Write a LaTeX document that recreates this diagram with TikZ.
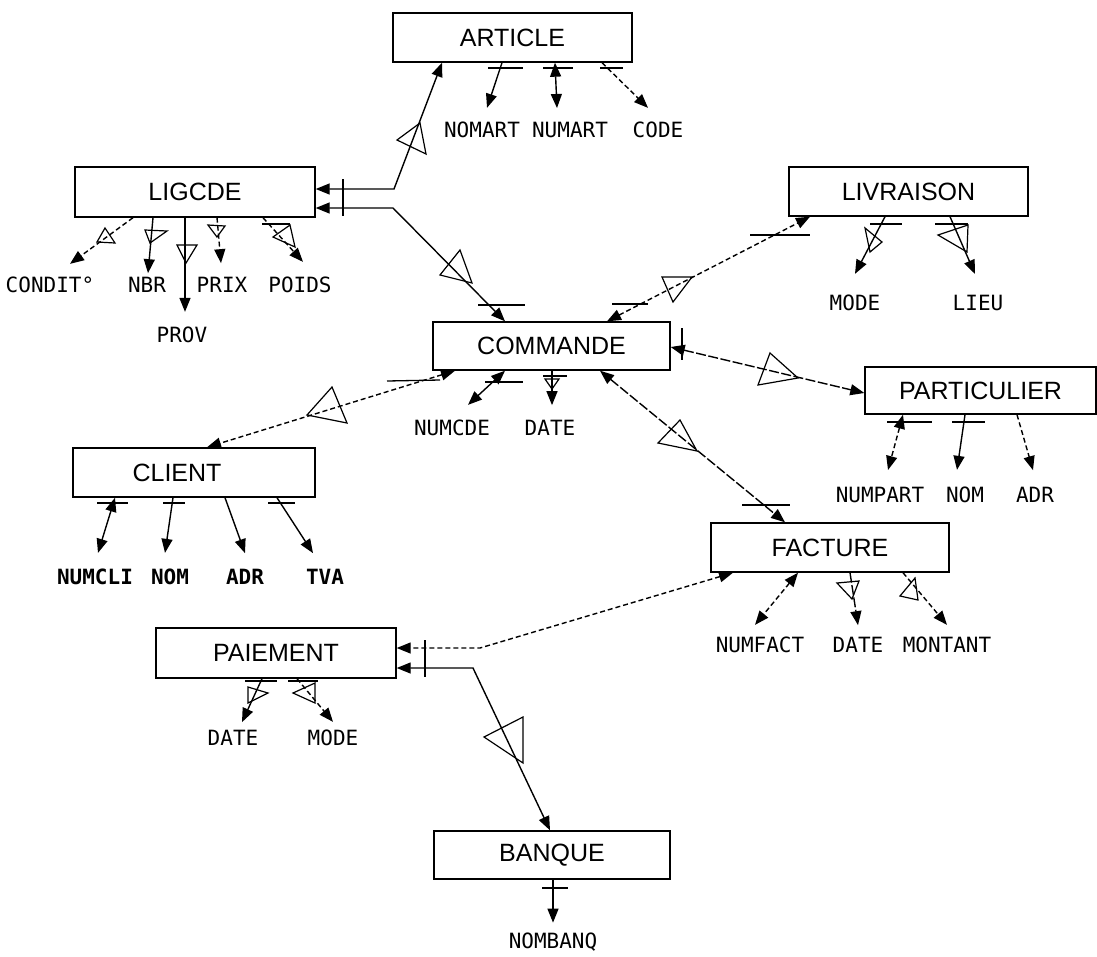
\documentclass[tikz,border=0pt]{standalone}
\usepackage{fontspec}
\newfontfamily\boxfont{Liberation Sans}
\newfontfamily\attrfont{DejaVu Sans Mono}
\usetikzlibrary{arrows.meta}
\tikzset{
  >={Triangle[length=14pt,width=11pt]},
  ent/.style={draw, line width=1.4pt, inner sep=0pt, font=\boxfont\fontsize{25}{25}\selectfont},
  attr/.style={inner sep=0pt, font=\attrfont\fontsize{21}{21}\selectfont},
  battr/.style={attr, font=\attrfont\bfseries\fontsize{21}{21}\selectfont},
  ln/.style={line width=1.4pt},
  dsh/.style={ln, dash pattern=on 5pt off 3pt},
  ldsh/.style={ln, dash pattern=on 10pt off 2.5pt},
  bar/.style={line width=1.3pt},
  tri/.style={line width=1.2pt},
}
\begin{document}
\begin{tikzpicture}[x=1pt,y=-1pt]
\useasboundingbox (0,0) rectangle (1097,956);

% entities
\node[ent, minimum width=239pt, minimum height=49pt] (ARTICLE) at (512.5,37.5) {ARTICLE};
\node[ent, minimum width=240pt, minimum height=50pt] (LIGCDE) at (195,192) {LIGCDE};
\node[ent, minimum width=237pt, minimum height=48pt] (COMMANDE) at (551.5,346) {COMMANDE};
\node[ent, minimum width=239pt, minimum height=49pt] (LIVRAISON) at (908.5,191.5) {LIVRAISON};
\node[ent, minimum width=231pt, minimum height=47pt] (PARTICULIER) at (980.5,390.5) {PARTICULIER};
\node[ent, minimum width=238pt, minimum height=49pt] (FACTURE) at (830,547.5) {FACTURE};
\node[ent, minimum width=242pt, minimum height=49pt] (CLIENT) at (194,472.5) {\hspace*{-34pt}CLIENT};
\node[ent, minimum width=240pt, minimum height=50pt] (PAIEMENT) at (276,653) {PAIEMENT};
\node[ent, minimum width=236pt, minimum height=48pt] (BANQUE) at (552,855) {BANQUE};

% attribute labels
\node[attr] (NOMART) at (482,130) {NOMART};
\node[attr] (NUMART) at (570,130) {NUMART};
\node[attr] (CODE) at (658,130) {CODE};
\node[attr] (CONDIT) at (50,285) {CONDIT°};
\node[attr] (NBR) at (147,285) {NBR};
\node[attr] (PROV) at (182,335) {PROV};
\node[attr] (PRIX) at (222,285) {PRIX};
\node[attr] (POIDS) at (300,285) {POIDS};
\node[attr] (NUMCDE) at (452,428) {NUMCDE};
\node[attr] (CDATE) at (550,428) {DATE};
\node[attr] (LMODE) at (855,303) {MODE};
\node[attr] (LIEU) at (978,303) {LIEU};
\node[attr] (NUMPART) at (880,495) {NUMPART};
\node[attr] (PNOM) at (965,495) {NOM};
\node[attr] (PADR) at (1035,495) {ADR};
\node[battr] (NUMCLI) at (95,577) {NUMCLI};
\node[battr] (CNOM) at (170,577) {NOM};
\node[battr] (CADR) at (245,577) {ADR};
\node[battr] (TVA) at (325,577) {TVA};
\node[attr] (NUMFACT) at (760,645) {NUMFACT};
\node[attr] (FDATE) at (858,645) {DATE};
\node[attr] (MONTANT) at (947,645) {MONTANT};
\node[attr] (PDATE) at (233,738) {DATE};
\node[attr] (PMODE) at (333,738) {MODE};
\node[attr] (NOMBANQ) at (553,942) {NOMBANQ};

% ARTICLE attributes
\draw[ln,->] (502,0 |- ARTICLE.south) -- ([shift={(5pt,14pt)}]NOMART.north);
\draw[ln,<->] (555,0 |- ARTICLE.south) -- ([shift={(-13pt,14pt)}]NUMART.north);
\draw[dsh,->] (602,0 |- ARTICLE.south) -- ([shift={(-10pt,14pt)}]CODE.north);
\draw[bar] (488,68) -- (523,68) (543,68) -- (573,68) (600,68) -- (623,68);

% LIGCDE attributes
\draw[dsh,->] (133,0 |- LIGCDE.south) -- ([shift={(20pt,13pt)}]CONDIT.north);
\draw[tri] (97,242) -- (105,228) -- (115,243) -- cycle;
\draw[ln,->] (153,0 |- LIGCDE.south) -- ([shift={(1pt,4pt)}]NBR.north);
\draw[tri] (145,230) -- (167,231) -- (150,243) -- cycle;
\draw[ln,->] (185,0 |- LIGCDE.south) -- ([shift={(3pt,15pt)}]PROV.north);
\draw[tri] (177,245) -- (197,245) -- (186,263) -- cycle;
\draw[dsh,->] (217,0 |- LIGCDE.south) -- ([shift={(-1pt,14pt)}]PRIX.north);
\draw[tri] (208,225) -- (225,226) -- (217,237) -- cycle;
\draw[dsh,->] (263,0 |- LIGCDE.south) -- ([shift={(3pt,15pt)}]POIDS.north);
\draw[bar] (262,224) -- (290,224);
\draw[tri] (273,237) -- (290,225) -- (295,247) -- cycle;

% COMMANDE attributes
\draw[ln,<->] (505,0 |- COMMANDE.south) -- ([shift={(16pt,15pt)}]NUMCDE.north);
\draw[bar] (485,382) -- (523,382);
\draw[ln,->] (552,0 |- COMMANDE.south) -- ([shift={(2pt,15pt)}]CDATE.north);
\draw[bar] (543,376) -- (567,376);
\draw[tri] (545,379) -- (559,379) -- (552,389) -- cycle;

% LIVRAISON attributes
\draw[ln,->] (885,0 |- LIVRAISON.south) -- ([shift={(0pt,21pt)}]LMODE.north);
\draw[bar] (870,224) -- (902,224);
\draw[tri] (865,228) -- (882,242) -- (870,252) -- cycle;
\draw[ln,->] (950,0 |- LIVRAISON.south) -- ([shift={(-3pt,21pt)}]LIEU.north);
\draw[bar] (935,224) -- (968,224);
\draw[tri] (938,235) -- (968,225) -- (967,252) -- cycle;

% PARTICULIER attributes
\draw[dsh,<->] (903,0 |- PARTICULIER.south) -- ([shift={(8pt,17pt)}]NUMPART.north);
\draw[bar] (887,422) -- (932,422);
\draw[ln,->] (965,0 |- PARTICULIER.south) -- ([shift={(-8pt,17pt)}]PNOM.north);
\draw[bar] (952,422) -- (985,422);
\draw[dsh,->] (1017,0 |- PARTICULIER.south) -- ([shift={(-2pt,17pt)}]PADR.north);

% CLIENT attributes
\draw[ln,<->] (115,0 |- CLIENT.south) -- ([shift={(3pt,16pt)}]NUMCLI.north);
\draw[bar] (97,503) -- (128,503);
\draw[ln,->] (173,0 |- CLIENT.south) -- ([shift={(-5pt,16pt)}]CNOM.north);
\draw[bar] (163,503) -- (185,503);
\draw[ln,->] (225,0 |- CLIENT.south) -- ([shift={(0pt,16pt)}]CADR.north);
\draw[ln,->] (277,0 |- CLIENT.south) -- ([shift={(-12pt,16pt)}]TVA.north);
\draw[bar] (268,503) -- (295,503);

% FACTURE attributes
\draw[dsh,<->] (798,0 |- FACTURE.south) -- ([shift={(-5pt,12pt)}]NUMFACT.north);
\draw[ldsh,->] (850,0 |- FACTURE.south) -- ([shift={(0pt,12pt)}]FDATE.north);
\draw[tri] (837,583) -- (859,581) -- (852,599) -- cycle;
\draw[dsh,->] (903,0 |- FACTURE.south) -- ([shift={(0pt,12pt)}]MONTANT.north);
\draw[tri] (900,596) -- (915,578) -- (918,600) -- cycle;

% PAIEMENT attributes
\draw[ln,->] (262,0 |- PAIEMENT.south) -- ([shift={(9pt,8pt)}]PDATE.north);
\draw[tri] (248,687) -- (248,703) -- (268,693) -- cycle;
\draw[dsh,->] (297,0 |- PAIEMENT.south) -- ([shift={(0pt,8pt)}]PMODE.north);
\draw[tri] (293,693) -- (315,683) -- (315,703) -- cycle;
\draw[bar] (245,681) -- (277,681) (288,681) -- (318,681);

% BANQUE attribute
\draw[ln,->] (553,0 |- BANQUE.south) -- ([shift={(0pt,10pt)}]NOMBANQ.north);
\draw[bar] (542,888) -- (568,888);

% relationships
\draw[ln,<->] (LIGCDE.east |- 0,189) -- (394,189) -- (442,0 |- ARTICLE.south);
\draw[tri] (397,140) -- (426,154) -- (420,123) -- cycle;
\draw[ln,<->] (LIGCDE.east |- 0,208) -- (393,208) -- (505,0 |- COMMANDE.north);
\draw[tri] (440,275) -- (460,250) -- (472,283) -- cycle;
\draw[bar] (478,305) -- (525,305);
\draw[bar] (343,179) -- (343,216);

\draw[dsh,<->] (607,0 |- COMMANDE.north) -- (810,0 |- LIVRAISON.south);
\draw[bar] (612,304) -- (648,304) (750,235) -- (810,235);
\draw[tri] (662,277) -- (692,277) -- (673,302) -- cycle;

\draw[dsh,<->] (455,0 |- COMMANDE.south) -- (207,0 |- CLIENT.north);
\draw[bar] (387,381) -- (440,380);
\draw[tri] (307,415) -- (332,387) -- (347,423) -- cycle;

\draw[ldsh,<->] (COMMANDE.east |- 0,347) -- (PARTICULIER.west |- 0,393);
\draw[bar] (682,328) -- (682,360);
\draw[tri] (770,353) -- (758,385) -- (798,378) -- cycle;

\draw[ldsh,<->] (600,0 |- COMMANDE.south) -- (785,0 |- FACTURE.north);
\draw[bar] (742,505) -- (790,505);
\draw[tri] (680,420) -- (658,443) -- (697,451) -- cycle;

\draw[dsh,<->] (733,0 |- FACTURE.south) -- (480,648) -- (PAIEMENT.east |- 0,648);
\draw[ln,<->] (PAIEMENT.east |- 0,668) -- (473,668) -- (550,0 |- BANQUE.north);
\draw[bar] (425,640) -- (425,677);
\draw[tri] (484,737) -- (523,717) -- (523,763) -- cycle;
\end{tikzpicture}
\end{document}
